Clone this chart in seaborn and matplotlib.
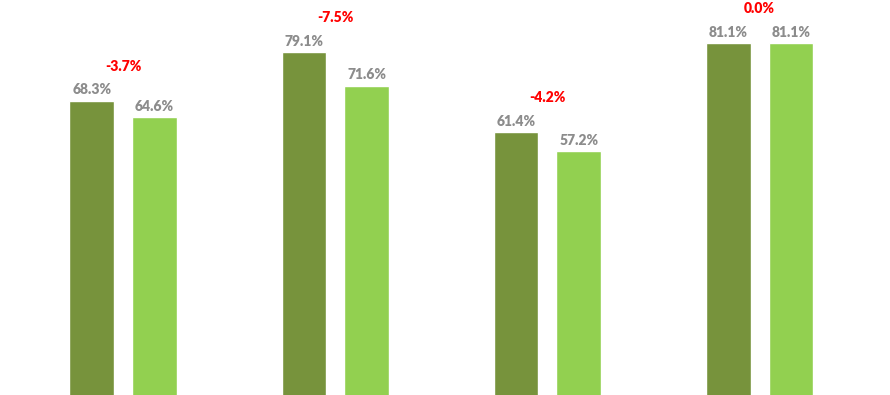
import matplotlib
matplotlib.use("Agg")
import matplotlib.pyplot as plt
import seaborn as sns
import pandas as pd

# values
groups = ["A", "B", "C", "D"]
prev_vals = [68.3, 79.1, 61.4, 81.1]
curr_vals = [64.6, 71.6, 57.2, 81.1]
changes = [-3.7, -7.5, -4.2, 0.0]
series = ["Previous", "Current"]

df = pd.DataFrame({
    "group": groups * 2,
    "value": prev_vals + curr_vals,
    "series": [series[0]] * len(groups) + [series[1]] * len(groups),
})

sns.set_theme(style="white")
plt.rcParams["font.family"] = ["Lato", "DejaVu Sans"]

fig = plt.figure(figsize=(8.9, 3.95), dpi=100)
ax = fig.add_axes([0, 0, 1, 1])

sns.barplot(data=df, x="group", y="value", hue="series",
            palette=["#77933C", "#92D050"], saturation=1,
            width=0.591, gap=0.287, legend=False, ax=ax)

# gray value labels on each bar
for cont in ax.containers:
    labels = [f"{v:.1f}%" for v in cont.datavalues]
    ax.bar_label(cont, labels=labels, padding=3, color="#8C8C8C",
                 fontsize=10, fontweight="heavy")

# red change labels above each pair
for i, ch in enumerate(changes):
    top = max(prev_vals[i], curr_vals[i])
    ax.annotate(f"{ch:.1f}%", xy=(i, top), xytext=(0, 24.5),
                textcoords="offset points", ha="center", va="center",
                color="#FF0000", fontsize=10, fontweight="heavy")

ax.set_xlim(-0.58, 3.615)
ax.set_ylim(3.14, 90.55)
ax.axis("off")

fig.savefig("out.png", dpi=100)
plt.close(fig)
